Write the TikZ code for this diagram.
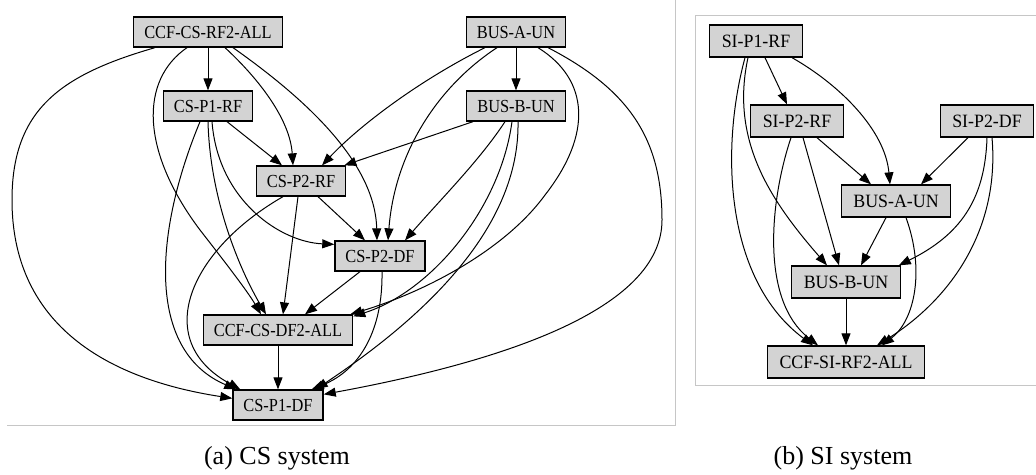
\documentclass[tikz,border=0pt]{standalone}
\usepackage{fontspec}
\setmainfont{Liberation Serif}
\newfontfamily\nodefonta[FakeStretch=0.89]{Liberation Serif}
\newfontfamily\nodefontb[FakeStretch=0.95]{Liberation Serif}
\usetikzlibrary{arrows.meta}

\definecolor{boxgray}{HTML}{D3D3D3}
\definecolor{framegray}{HTML}{C6C6C6}

\begin{document}
\begin{tikzpicture}[x=1pt,y=-1pt,
  box/.style={draw=black, fill=boxgray, line width=1.3pt, rectangle,
    minimum height=30pt, inner ysep=0pt, inner xsep=10.5pt,
    font=\nodefonta\fontsize{18.4}{20}\selectfont},
  boxb/.style={box, minimum height=32pt, inner xsep=12pt,
    font=\nodefontb\fontsize{18.8}{20}\selectfont},
  edge/.style={line width=1pt, -{Triangle[length=12pt,width=9pt]}},
  frameline/.style={draw=framegray, line width=1pt},
  caption/.style={font=\fontsize{26}{30}\selectfont, anchor=base, inner sep=0pt}
]
\useasboundingbox (0,0) rectangle (1036,474);

% panel frames
\draw[frameline] (675,0) -- (675,425) -- (7,425);
\draw[frameline] (1036,15) -- (695,15) -- (695,385) -- (1036,385);

% ---------------- (a) CS system ----------------
\node[box] (a1)  at (208,32)  {CCF-CS-RF2-ALL};
\node[box] (bA)  at (516,32)  {BUS-A-UN};
\node[box] (p1r) at (208,106) {CS-P1-RF};
\node[box] (bB)  at (516,106) {BUS-B-UN};
\node[box] (p2r) at (301,181) {CS-P2-RF};
\node[box] (p2d) at (380,256) {CS-P2-DF};
\node[box] (df2) at (278,330) {CCF-CS-DF2-ALL};
\node[box] (p1d) at (278,405) {CS-P1-DF};

% from CCF-CS-RF2-ALL
\draw[edge] (a1.south) -- (p1r.north);
\draw[edge] ([xshift=-53pt]a1.south) .. controls (60,75) and (12,110) .. (12,200)
            .. controls (12,320) and (100,378) .. ([yshift=-9pt]p1d.north west);
\draw[edge] ([xshift=17pt]a1.south) .. controls (260,80) and (290,120) .. ([xshift=-8pt]p2r.north);
\draw[edge] ([xshift=25pt]a1.south) .. controls (300,95) and (375,160) .. ([xshift=-3pt]p2d.north);
\draw[edge] ([xshift=-21pt]a1.south) .. controls (140,80) and (140,150) .. (200,230)
            .. controls (225,262) and (248,292) .. ([xshift=-17pt]df2.north);

% from CS-P1-RF
\draw[edge] ([xshift=19pt]p1r.south) -- ([xshift=-19pt]p2r.north);
\draw[edge] ([xshift=4pt]p1r.south) .. controls (218,200) and (280,242) .. ([yshift=-4pt]p2d.north west);
\draw[edge] (p1r.south) .. controls (210,200) and (240,270) .. ([xshift=-12pt]df2.north);
\draw[edge] ([xshift=-8pt]p1r.south) .. controls (155,230) and (145,350) .. ([xshift=4pt]p1d.north west);

% from CS-P2-RF
\draw[edge] ([xshift=17pt]p2r.south) -- ([xshift=-15pt]p2d.north);
\draw[edge] ([xshift=-3pt]p2r.south) -- ([xshift=5pt]df2.north);
\draw[edge] ([xshift=-18pt]p2r.south) .. controls (190,250) and (150,340) .. ([xshift=8pt]p1d.north west);

% from CS-P2-DF
\draw[edge] ([xshift=-20pt]p2d.south) -- ([xshift=27pt]df2.north);
\draw[edge] ([xshift=2pt]p2d.south) .. controls (383,330) and (360,370) .. ([xshift=-12pt]p1d.north east);

% from CCF-CS-DF2-ALL
\draw[edge] (df2.south) -- (p1d.north);

% from BUS-A-UN
\draw[edge] (bA.south) -- (bB.north);
\draw[edge] ([xshift=-31pt]bA.south) .. controls (420,80) and (360,125) .. ([xshift=21pt]p2r.north);
\draw[edge] ([xshift=-19pt]bA.south) .. controls (440,85) and (395,150) .. ([xshift=8pt]p2d.north);
\draw[edge] ([xshift=22pt]bA.south) .. controls (590,80) and (592,135) .. (545,195)
            .. controls (505,250) and (425,292) .. ([xshift=-3pt]df2.north east);
\draw[edge] ([xshift=32pt]bA.south) .. controls (630,90) and (662,140) .. (662,220)
            .. controls (662,310) and (500,362) .. ([yshift=-5pt]p1d.north east);

% from BUS-B-UN
\draw[edge] ([xshift=-43pt]bB.south) -- ([xshift=-2pt]p2r.north east);
\draw[edge] ([xshift=-11pt]bB.south) .. controls (480,160) and (440,200) .. ([xshift=25pt]p2d.north);
\draw[edge] ([xshift=-4pt]bB.south) .. controls (500,210) and (430,292) .. ([yshift=-2pt]df2.north east);
\draw[edge] ([xshift=2pt]bB.south) .. controls (520,230) and (420,320) .. ([xshift=-8pt]p1d.north east);

% ---------------- (b) SI system ----------------
\node[boxb] (s1) at (756,41)  {SI-P1-RF};
\node[boxb] (s2) at (797,121) {SI-P2-RF};
\node[boxb] (s3) at (987,121) {SI-P2-DF};
\node[boxb] (ba) at (896,201) {BUS-A-UN};
\node[boxb] (bb) at (846,282) {BUS-B-UN};
\node[boxb] (cc) at (846,362) {CCF-SI-RF2-ALL};

% from SI-P1-RF
\draw[edge] ([xshift=9pt]s1.south) -- ([xshift=-10pt]s2.north);
\draw[edge] ([xshift=36pt]s1.south) .. controls (840,85) and (885,130) .. ([xshift=-6pt]ba.north);
\draw[edge] ([xshift=-8pt]s1.south) .. controls (730,140) and (770,200) .. ([xshift=-19pt]bb.north);
\draw[edge] ([xshift=-11pt]s1.south) .. controls (720,150) and (725,280) .. ([xshift=-33pt]cc.north);

% from SI-P2-RF
\draw[edge] ([xshift=20pt]s2.south) -- ([xshift=-25pt]ba.north);
\draw[edge] ([xshift=6pt]s2.south) -- ([xshift=-7pt]bb.north);
\draw[edge] ([xshift=-6pt]s2.south) .. controls (770,200) and (760,300) .. ([xshift=-28pt]cc.north);

% from SI-P2-DF
\draw[edge] ([xshift=-19pt]s3.south) -- ([xshift=25pt]ba.north);
\draw[edge] (s3.south) .. controls (985,200) and (960,235) .. ([xshift=-2pt]bb.north east);
\draw[edge] ([xshift=5pt]s3.south) .. controls (1000,230) and (950,300) .. ([xshift=31pt]cc.north);

% from BUS-A-UN and BUS-B-UN
\draw[edge] ([xshift=-10pt]ba.south) -- ([xshift=15pt]bb.north);
\draw[edge] ([xshift=10pt]ba.south) .. controls (925,270) and (915,320) .. ([xshift=36pt]cc.north);
\draw[edge] (bb.south) -- (cc.north);

% captions
\node[caption] (capa) at (277,464) {(a) CS system};
\node[caption] (capb) at (843,464) {(b) SI system};
\end{tikzpicture}
\end{document}
